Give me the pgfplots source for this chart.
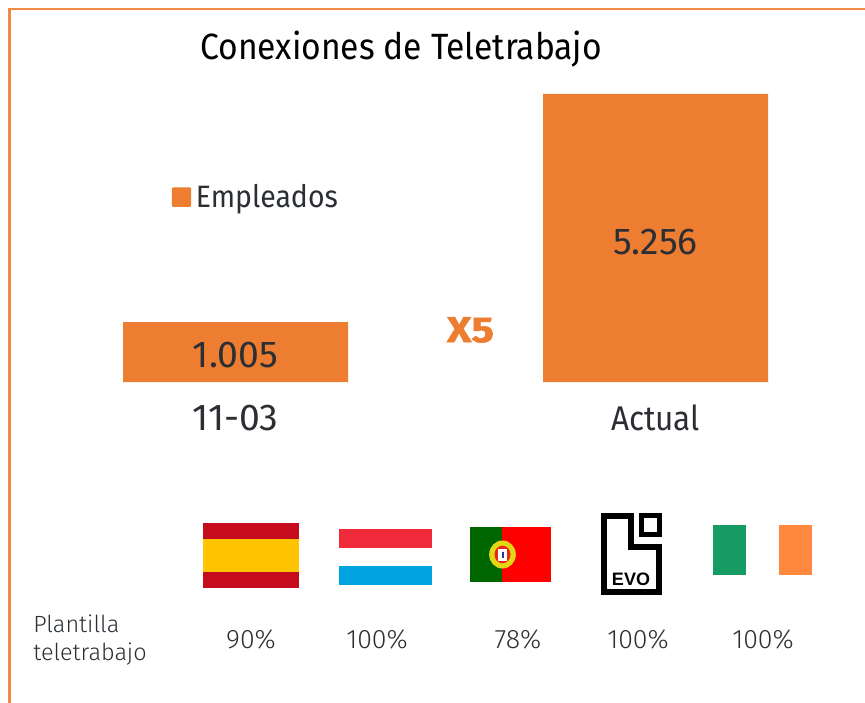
\documentclass[border=0pt]{standalone}
\usepackage{pgfplots}
\pgfplotsset{compat=1.18}
\usepackage{fontspec}
\setmainfont{Fira Sans}[UprightFont=* Light,BoldFont=* Bold]
\newfontfamily\regfont{Fira Sans}[FakeStretch=0.92]
\newfontfamily\numfont{Fira Sans}
\newfontfamily\xfont{Fira Sans}[UprightFont=* Bold,FakeBold=1.5]
\newfontfamily\evofont{Liberation Sans}
\definecolor{barorange}{HTML}{ED7D31}
\definecolor{frameorange}{HTML}{F08A45}
\definecolor{txt}{HTML}{2B2F33}
\newcommand{\fs}[1]{\fontsize{#1}{#1}\selectfont}
\begin{document}
\begin{tikzpicture}[x=0.75pt,y=-0.75pt]
\path[use as bounding box] (0,0) rectangle (865,703);
% frame
\draw[frameorange,line width=2.2pt] (865,9) -- (9.5,9) -- (9.5,703);
\begin{axis}[
  at={(50.625pt,-286.5pt)},anchor=south west,
  scale only axis,width=567pt,height=216pt,
  xmin=-0.4,xmax=1.4,ymin=0,ymax=5369,
  hide y axis,
  axis x line*=bottom,
  x axis line style={draw=none},
  major tick length=0pt,
  xtick={0,1},xticklabels={{\numfont\fs{28}11-03},{\regfont\fs{25.7}Actual}},
  xticklabel style={text=txt,text height=18pt,text depth=0pt,yshift=-14.5pt},
  ybar,bar width=168.75pt,
  y filter/.expression={y+113},
  clip=false,
  legend style={draw=none,fill=none,at={(axis description cs:0.138,0.642)},anchor=west,inner sep=0pt,outer sep=0pt,font=\regfont\fs{23.2},text=txt,
    legend cell align=left},
  legend image code/.code={\fill[barorange,rounded corners=0.8pt] (0pt,-7.3pt) rectangle (14.5pt,7.3pt);},
]
\addplot[fill=barorange,draw=none] table[x=x,y=y] {
x y
0 1005
1 5256
};
\addlegendentry{\hspace{1.5pt}Empleados}
\node[font=\numfont\fs{28},text=txt] at (axis cs:0,503) {1.005};
\node[font=\numfont\fs{28},text=txt] at (axis cs:1,2610) {5.256};
\end{axis}
% title
\node[anchor=base west,inner sep=0pt,font=\regfont\fs{27.4},text=black] at (200,59) {Conexiones de Teletrabajo};
% X5
\node[inner sep=0pt,text=barorange] at (470.5,330) {\scalebox{1.17}[1]{\xfont\fs{27}X5}};
% Spain
\fill[fill={rgb,255:red,198;green,11;blue,30}] (203,523) rectangle (299,588);
\fill[fill={rgb,255:red,255;green,196;blue,0}] (203,539) rectangle (299,572);
% Luxembourg
\fill[fill={rgb,255:red,239;green,43;blue,59}] (339,529) rectangle (432,548);
\fill[fill={rgb,255:red,0;green,163;blue,224}] (339,566) rectangle (432,585);
% Portugal
\fill[fill={rgb,255:red,0;green,102;blue,0}] (470,527) rectangle (502,582);
\fill[fill={rgb,255:red,255;green,0;blue,0}] (502,527) rectangle (551,582);
\fill[fill={rgb,255:red,225;green,215;blue,20}] (502.5,554.5) circle [x radius=10pt,y radius=10.5pt];
\fill[fill={rgb,255:red,230;green,40;blue,20}] (502.5,554.5) circle [x radius=6pt,y radius=6.6pt];
\fill[white] (498,549) rectangle (507,561);
\fill[fill={rgb,255:red,30;green,60;blue,150}] (501.5,552) rectangle (503.5,558);
% EVO
\draw[black,line width=4.5pt,miter limit=10] (604,516) -- (631,516) -- (631,547) -- (659,547) -- (659,592) -- (604,592) -- cycle;
\draw[black,line width=3.8pt] (641.5,515.5) -- (659.5,515.5) -- (659.5,534.5) -- (641.5,534.5) -- cycle;
\node[inner sep=0pt,font=\evofont\bfseries\fs{13.5},text=black] at (631,579.5) {EVO};
% Ireland
\fill[fill={rgb,255:red,22;green,155;blue,98}] (713,525) rectangle (746,575);
\fill[fill={rgb,255:red,255;green,136;blue,62}] (779,525) rectangle (812,575);
% bottom labels
\node[anchor=base west,inner sep=0pt,font=\fs{17.6},text=txt] at (33,632) {Plantilla};
\node[anchor=base west,inner sep=0pt,font=\fs{17.6},text=txt] at (33,660) {teletrabajo};
\foreach \x/\t in {251/90,377/100,518/78,638/100,763/100}
  \node[anchor=base,inner sep=0pt,font=\fs{20},text=txt] at (\x,648) {\t\%};
\end{tikzpicture}
\end{document}
